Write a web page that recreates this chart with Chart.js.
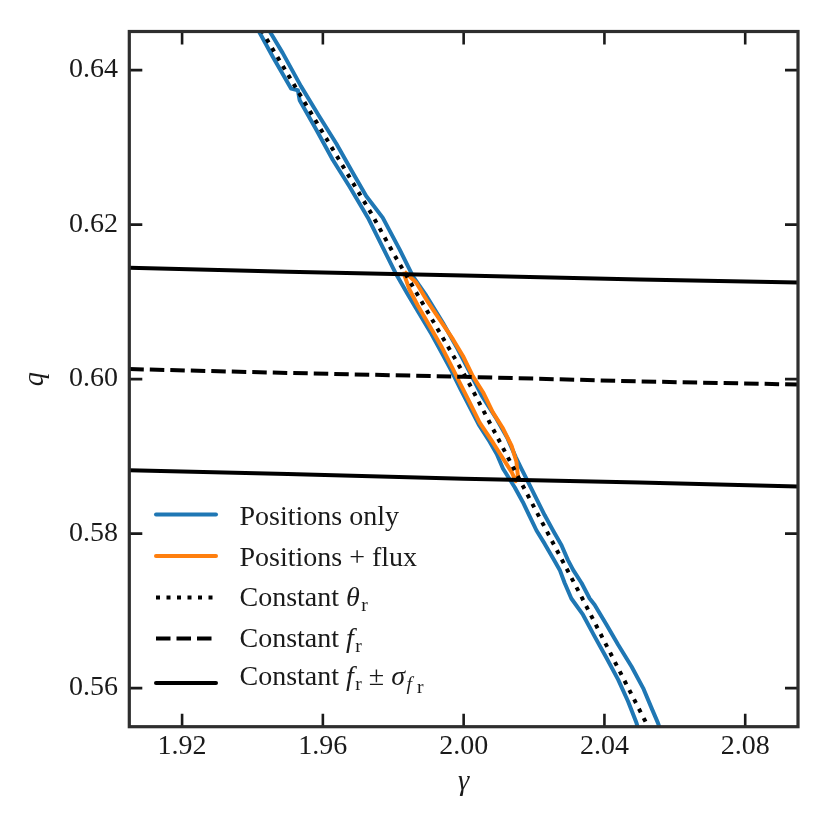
<!DOCTYPE html>
<html>
<head>
<meta charset="utf-8">
<script src="https://cdn.jsdelivr.net/npm/chart.js@4.4.0/dist/chart.umd.min.js"></script>
<style>
  html, body { margin: 0; padding: 0; background: #fff; }
  #wrap { width: 831px; height: 831px; }
</style>
</head>
<body>
<div id="wrap"><canvas id="chart" width="831" height="831"></canvas></div>
<script>
// Axes
const xRange = [1.905, 2.095];
const yRange = [0.555, 0.645];
const xTicks = [1.92, 1.96, 2.00, 2.04, 2.08];
const yTicks = [0.56, 0.58, 0.60, 0.62, 0.64];

// Positions only contour (left edge going down, then right edge going up)
const blueLeftGamma = [1.9400, 1.9422, 1.9458, 1.9510, 1.9529, 1.9534, 1.9581, 1.9628, 1.9676, 1.9728,
  1.9773, 1.9808, 1.9841, 1.9875, 1.9909, 1.9940, 1.9966, 1.9991, 2.0017, 2.0043,
  2.0074, 2.0094, 2.0112, 2.0145, 2.0168, 2.0188, 2.0207, 2.0230, 2.0254, 2.0273,
  2.0287, 2.0306, 2.0339, 2.0372, 2.0406, 2.0439, 2.0467, 2.0491, 2.0503];
const blueLeftQ = [0.6465, 0.6447, 0.6417, 0.6376, 0.6374, 0.6361, 0.6323, 0.6284, 0.6249, 0.6209,
  0.6168, 0.6136, 0.6110, 0.6084, 0.6058, 0.6032, 0.6010, 0.5987, 0.5964, 0.5941,
  0.5919, 0.5903, 0.5884, 0.5860, 0.5841, 0.5822, 0.5804, 0.5787, 0.5768, 0.5753,
  0.5736, 0.5716, 0.5695, 0.5667, 0.5639, 0.5611, 0.5583, 0.5555, 0.5536];
const blueRightGamma = [2.0566, 2.0552, 2.0534, 2.0510, 2.0477, 2.0439, 2.0406, 2.0372, 2.0358, 2.0335,
  2.0311, 2.0296, 2.0278, 2.0254, 2.0230, 2.0207, 2.0183, 2.0164, 2.0148, 2.0125,
  2.0094, 2.0051, 2.0017, 1.9983, 1.9941, 1.9894, 1.9856, 1.9818, 1.9770, 1.9723,
  1.9685, 1.9638, 1.9590, 1.9538, 1.9486, 1.9453, 1.9431];
const blueRightQ = [0.5536, 0.5555, 0.5574, 0.5600, 0.5628, 0.5656, 0.5682, 0.5708, 0.5716, 0.5736,
  0.5753, 0.5766, 0.5785, 0.5804, 0.5824, 0.5845, 0.5867, 0.5884, 0.5899, 0.5923,
  0.5948, 0.5979, 0.6009, 0.6039, 0.6073, 0.6108, 0.6133, 0.6168, 0.6209, 0.6237,
  0.6267, 0.6305, 0.6340, 0.6379, 0.6422, 0.6447, 0.6465];

// Positions + flux contour (closed loop)
const orangeGamma = [1.9832, 1.9865, 1.9894, 1.9932, 1.9969, 1.9998, 2.0026, 2.0055, 2.0083, 2.0112,
  2.0136, 2.0150, 2.0154, 2.0148, 2.0136, 2.0112, 2.0083, 2.0045, 2.0017, 1.9988,
  1.9965, 1.9936, 1.9903, 1.9870, 1.9846, 1.9832, 1.9832];
const orangeQ = [0.6139, 0.6125, 0.6103, 0.6077, 0.6052, 0.6030, 0.6004, 0.5983, 0.5957, 0.5936,
  0.5914, 0.5893, 0.5875, 0.5868, 0.5880, 0.5897, 0.5918, 0.5944, 0.5970, 0.5996,
  0.6017, 0.6043, 0.6069, 0.6095, 0.6116, 0.6134, 0.6139];

// Constant theta_r curve
const thetaGamma = [1.9416, 1.9434, 1.9742, 1.9799, 2.0008, 2.0183, 2.0335, 2.0514, 2.0526];
const thetaQ = [0.6465, 0.6445, 0.6211, 0.6164, 0.6001, 0.5849, 0.5718, 0.5559, 0.5548];

// Constant f_r and +/- sigma
const fluxGamma = [1.905, 1.95, 2.00, 2.05, 2.095];
const fluxUpperQ = [0.6144, 0.6139, 0.6134, 0.6129, 0.6125];
const fluxCentralQ = [0.6013, 0.6008, 0.6003, 0.5997, 0.5993];
const fluxLowerQ = [0.5882, 0.5877, 0.5871, 0.5866, 0.5861];

const SERIF = '"Liberation Serif", "DejaVu Serif", serif';
const INK = '#1a1a1a';
const LW = 4;

const zip = (xs, ys) => xs.map((v, i) => ({ x: v, y: ys[i] }));

const blueLoop = zip(blueLeftGamma, blueLeftQ).concat(zip(blueRightGamma, blueRightQ));
blueLoop.push(blueLoop[0]);

const common = { showLine: true, pointRadius: 0, tension: 0, fill: false, borderWidth: LW };

const datasets = [
  { ...common, label: 'Positions only', data: blueLoop, borderColor: '#1f77b4', order: 6, borderJoinStyle: 'round' },
  { ...common, label: 'Positions + flux', data: zip(orangeGamma, orangeQ), borderColor: '#ff7f0e', order: 5, borderJoinStyle: 'round' },
  { ...common, label: 'Constant theta_r', data: zip(thetaGamma, thetaQ), borderColor: '#000', borderDash: [4, 6.5], borderCapStyle: 'butt', order: 4 },
  { ...common, label: 'Constant f_r', data: zip(fluxGamma, fluxCentralQ), borderColor: '#000', borderDash: [14.5, 6], borderCapStyle: 'butt', order: 3 },
  { ...common, label: 'Constant f_r + sigma', data: zip(fluxGamma, fluxUpperQ), borderColor: '#000', order: 2 },
  { ...common, label: 'Constant f_r - sigma', data: zip(fluxGamma, fluxLowerQ), borderColor: '#000', order: 1 },
];

// legend rows: dataset index + text pieces (sub = subscript level)
const legendRows = [
  { ds: 0, parts: [{ t: 'Positions only' }] },
  { ds: 1, parts: [{ t: 'Positions + flux' }] },
  { ds: 2, parts: [{ t: 'Constant ' }, { t: 'θ', it: true }, { t: 'r', sub: 1 }] },
  { ds: 3, parts: [{ t: 'Constant ' }, { t: 'f', it: true }, { t: 'r', sub: 1 }] },
  { ds: 4, parts: [{ t: 'Constant ' }, { t: 'f', it: true }, { t: 'r', sub: 1 }, { t: ' ± ' },
    { t: 'σ', it: true }, { t: 'f', it: true, sub: 1 }, { t: ' r', sub: 2 }] },
];

const frameAndTicks = {
  id: 'frameAndTicks',
  afterDraw(chart) {
    const { ctx, chartArea: a, scales: { x, y } } = chart;
    const tl = 13;
    ctx.save();
    ctx.strokeStyle = INK;
    ctx.lineWidth = 2.6;
    ctx.beginPath();
    xTicks.forEach(v => {
      const px = x.getPixelForValue(v);
      ctx.moveTo(px, a.bottom); ctx.lineTo(px, a.bottom - tl);
      ctx.moveTo(px, a.top); ctx.lineTo(px, a.top + tl);
    });
    yTicks.forEach(v => {
      const py = y.getPixelForValue(v);
      ctx.moveTo(a.left, py); ctx.lineTo(a.left + tl, py);
      ctx.moveTo(a.right, py); ctx.lineTo(a.right - tl, py);
    });
    ctx.stroke();
    ctx.strokeStyle = '#2e2e2e';
    ctx.lineWidth = 3.2;
    ctx.strokeRect(a.left, a.top, a.right - a.left, a.bottom - a.top);
    ctx.restore();
  }
};

const mathLegend = {
  id: 'mathLegend',
  afterDraw(chart) {
    const { ctx } = chart;
    const size = 28;
    const lineY = [514.5, 556, 597.5, 638.5, 683];
    const baseY = [525, 566, 605.5, 646.5, 684.5];
    ctx.save();
    legendRows.forEach((row, i) => {
      const ds = chart.data.datasets[row.ds];
      ctx.strokeStyle = ds.borderColor;
      ctx.lineWidth = LW;
      ctx.setLineDash(ds.borderDash || []);
      ctx.lineCap = ds.borderDash ? 'butt' : 'round';
      ctx.beginPath();
      ctx.moveTo(156, lineY[i]);
      ctx.lineTo(216, lineY[i]);
      ctx.stroke();
      ctx.setLineDash([]);
      let tx = 239.5;
      ctx.fillStyle = INK;
      ctx.textBaseline = 'alphabetic';
      row.parts.forEach(p => {
        const lvl = p.sub || 0;
        const s = lvl === 0 ? size : size * 0.7;
        const dy = lvl === 0 ? 0 : lvl === 1 ? 5.5 : 8.5;
        ctx.font = `${p.it ? 'italic ' : ''}${s}px ${SERIF}`;
        ctx.fillText(p.t, tx, baseY[i] + dy);
        tx += ctx.measureText(p.t).width + (p.it && lvl === 0 ? 1.5 : 0);
      });
    });
    ctx.restore();
  }
};

new Chart(document.getElementById('chart'), {
  type: 'scatter',
  data: { datasets },
  options: {
    responsive: false,
    animation: false,
    layout: { padding: { top: 31.5, right: 33, left: 0, bottom: 0 } },
    plugins: { legend: { display: false }, tooltip: { enabled: false } },
    scales: {
      x: {
        type: 'linear',
        min: xRange[0],
        max: xRange[1],
        afterBuildTicks: s => { s.ticks = xTicks.map(v => ({ value: v })); },
        afterFit: s => { s.height = 104.3; },
        grid: { display: false, drawTicks: false },
        border: { display: false },
        ticks: {
          autoSkip: false, maxRotation: 0, padding: 3.5, color: INK,
          font: { family: SERIF, size: 28 },
          callback: v => Number(v).toFixed(2)
        },
        title: {
          display: true, text: 'γ', color: INK,
          font: { family: SERIF, size: 28.5, style: 'italic' },
          padding: { top: 0, bottom: 31.5 }
        }
      },
      y: {
        type: 'linear',
        min: yRange[0],
        max: yRange[1],
        afterBuildTicks: s => { s.ticks = yTicks.map(v => ({ value: v })); },
        afterFit: s => { s.width = 129.3; },
        grid: { display: false, drawTicks: false },
        border: { display: false },
        ticks: {
          autoSkip: false, padding: 11.3, color: INK,
          font: { family: SERIF, size: 28 },
          callback: v => Number(v).toFixed(2)
        },
        title: {
          display: true, text: 'q', color: INK,
          font: { family: SERIF, size: 28.5, style: 'italic' },
          padding: { top: 18.5, bottom: 0 }
        }
      }
    }
  },
  plugins: [frameAndTicks, mathLegend]
});
</script>
</body>
</html>
